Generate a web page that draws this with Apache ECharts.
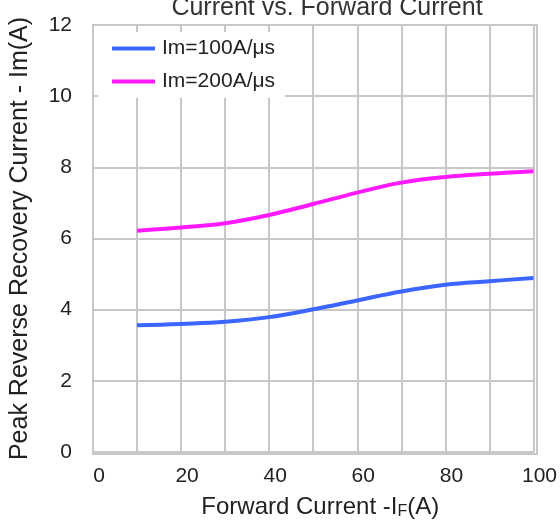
<!DOCTYPE html>
<html>
<head>
<meta charset="utf-8">
<script src="https://cdn.jsdelivr.net/npm/echarts@6/dist/echarts.min.js"></script>
<style>
  html, body { margin: 0; padding: 0; background: #fff; }
  #chart { width: 560px; height: 525px; }
</style>
</head>
<body>
<div id="chart"></div>
<script>
// Forward current sample points (A)
const forwardCurrent = [10, 20, 30, 40, 50, 60, 70, 80, 90, 100];
// Peak reverse recovery current (A) at two di/dt settings
const irm100 = [3.56, 3.60, 3.66, 3.79, 4.01, 4.26, 4.51, 4.70, 4.80, 4.89];
const irm200 = [6.22, 6.31, 6.43, 6.66, 6.97, 7.29, 7.57, 7.73, 7.82, 7.89];
const seriesNames = ['Im=100A/μs', 'Im=200A/μs'];
const xTickLabels = [0, 20, 40, 60, 80, 100];
const yTickLabels = [0, 2, 4, 6, 8, 10, 12];

const pairs = (xs, ys) => xs.map((x, i) => [x, ys[i]]);
const gridColor = '#c8c8c8';
const textColor = '#222';
const font = 'Liberation Sans';

const chart = echarts.init(document.getElementById('chart'), null, { renderer: 'canvas' });
chart.setOption({
  animation: false,
  backgroundColor: '#fff',
  title: {
    text: 'Current vs. Forward Current',
    left: 322,
    textAlign: 'center',
    top: -9,
    textStyle: { fontFamily: font, fontSize: 25, fontWeight: 'normal', color: '#333' }
  },
  legend: {
    left: 98,
    top: 32,
    orient: 'vertical',
    itemWidth: 43,
    itemHeight: 4,
    itemGap: 12,
    padding: [6, 10, 6, 14],
    backgroundColor: '#fff',
    icon: 'rect',
    textStyle: { fontFamily: font, fontSize: 21, color: textColor, padding: [0, 0, 0, 2] },
    data: seriesNames
  },
  grid: { left: 93, right: 23, top: 25, bottom: 71, containLabel: false },
  xAxis: {
    type: 'value',
    min: 0, max: 100, interval: 10,
    name: 'Forward Current -I{sub|F}(A)',
    nameLocation: 'middle',
    nameGap: 42,
    nameTextStyle: {
      fontFamily: font, fontSize: 24, color: textColor, padding: [0, 0, 0, 14],
      rich: { sub: { fontFamily: font, fontSize: 16, color: textColor, verticalAlign: 'bottom', padding: [10, 0, 0, 0] } }
    },
    axisLine: { show: true, lineStyle: { color: gridColor, width: 2 } },
    axisTick: { show: false },
    splitLine: { show: true, lineStyle: { color: gridColor, width: 2 } },
    axisLabel: {
      margin: 14,
      padding: [0, 0, 0, 12],
      fontFamily: font, fontSize: 21, color: textColor,
      formatter: v => xTickLabels.includes(v) ? String(v) : ''
    }
  },
  yAxis: {
    type: 'value',
    min: 0, max: 12, interval: 2,
    name: 'Peak Reverse Recovery Current - Im(A)',
    nameLocation: 'middle',
    nameGap: 60,
    nameTextStyle: { fontFamily: font, fontSize: 25, color: textColor },
    axisLine: { show: true, lineStyle: { color: gridColor, width: 2 } },
    axisTick: { show: false },
    splitLine: { show: true, lineStyle: { color: gridColor, width: 2 } },
    axisLabel: {
      margin: 21,
      fontFamily: font, fontSize: 21, color: textColor,
      formatter: v => yTickLabels.includes(v) ? String(v) : ''
    }
  },
  series: [
    {
      name: seriesNames[0], type: 'line', smooth: 0.4, showSymbol: false,
      data: pairs(forwardCurrent, irm100),
      itemStyle: { color: '#3b66ff' },
      lineStyle: { color: '#3b66ff', width: 4 },
      z: 3
    },
    {
      name: seriesNames[1], type: 'line', smooth: 0.4, showSymbol: false,
      data: pairs(forwardCurrent, irm200),
      itemStyle: { color: '#ff19ff' },
      lineStyle: { color: '#ff19ff', width: 4 },
      z: 3
    }
  ]
});
// Right and top edges of the plot frame
chart.setOption({
  graphic: [{
    type: 'rect',
    shape: { x: 93, y: 25, width: 444, height: 429 },
    style: { fill: 'none', stroke: gridColor, lineWidth: 2 },
    z: 0, silent: true
  }]
});
</script>
</body>
</html>
